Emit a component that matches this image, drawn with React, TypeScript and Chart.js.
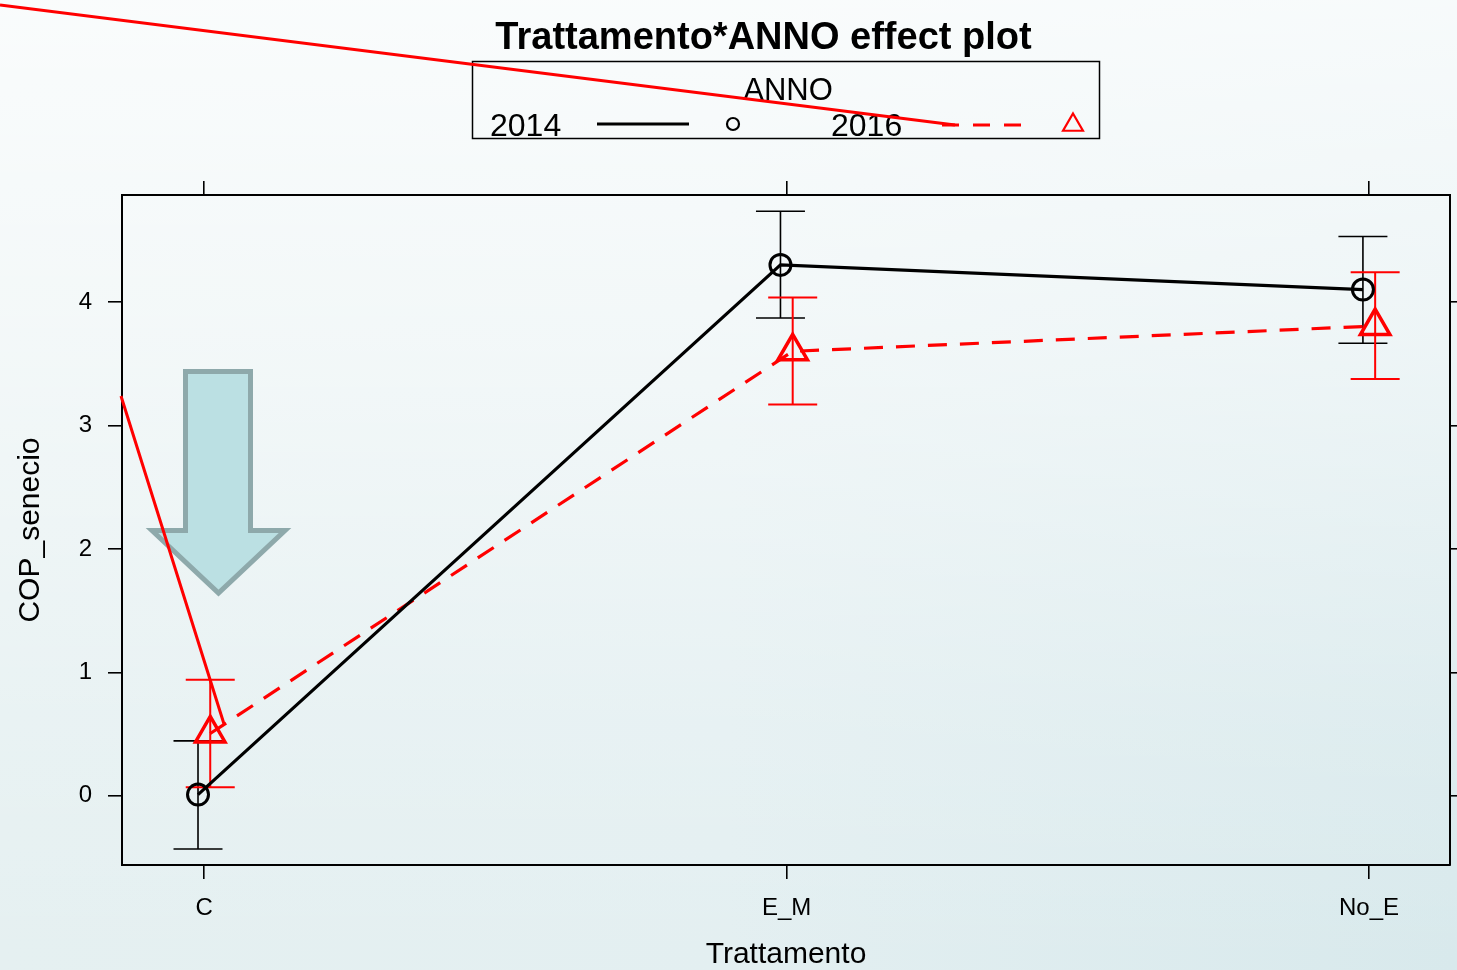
import { useEffect, useRef } from "react";
import { Chart, registerables } from "chart.js";

Chart.register(...registerables);

// Effect estimates with 95% confidence limits, per treatment and year
const categories = ["C", "E_M", "No_E"];
const years = ["2014", "2016"];
const fit2014 = [0.01, 4.3, 4.1];
const lower2014 = [-0.43, 3.87, 3.665];
const upper2014 = [0.445, 4.735, 4.53];
const fit2016 = [0.505, 3.6, 3.805];
const lower2016 = [0.07, 3.17, 3.375];
const upper2016 = [0.94, 4.035, 4.24];
const yTickValues = [0, 1, 2, 3, 4];

const FONT = "'Liberation Sans', Arial, Helvetica, sans-serif";
const W = 1457;
const H = 970;

// dodge of the two year groups around each category position
const DODGE = 0.0105;

const yMin = -0.56;
const yMax = 4.866;
const xMin = -0.141;
const xMax = 2.139;

const backgroundPlugin = {
  id: "slideBackground",
  beforeDraw(chart: any) {
    const { ctx } = chart;
    ctx.save();
    const g1 = ctx.createLinearGradient(0, 0, W, 0);
    g1.addColorStop(0, "#e5f0f1");
    g1.addColorStop(0.5, "#e3eff1");
    g1.addColorStop(1, "#d8e9ec");
    ctx.fillStyle = g1;
    ctx.fillRect(0, 0, W, H);
    const g2 = ctx.createLinearGradient(0, 0, 0, H);
    g2.addColorStop(0, "rgba(255,255,255,0.8)");
    g2.addColorStop(0.35, "rgba(255,255,255,0.55)");
    g2.addColorStop(0.75, "rgba(255,255,255,0.15)");
    g2.addColorStop(1, "rgba(255,255,255,0)");
    ctx.fillStyle = g2;
    ctx.fillRect(0, 0, W, H);
    ctx.restore();
  },
};

const errorBarPlugin = {
  id: "errorBars",
  beforeDatasetsDraw(chart: any) {
    const { ctx } = chart;
    const yScale = chart.scales.y;
    chart.data.datasets.forEach((ds: any, di: number) => {
      const meta = chart.getDatasetMeta(di);
      ctx.save();
      ctx.strokeStyle = ds.borderColor;
      ctx.lineWidth = ds.errorWidth;
      ctx.setLineDash([]);
      meta.data.forEach((pt: any, i: number) => {
        const x = pt.x;
        const yl = yScale.getPixelForValue(ds.lower[i]);
        const yu = yScale.getPixelForValue(ds.upper[i]);
        const cap = 24.5;
        ctx.beginPath();
        ctx.moveTo(x, yl);
        ctx.lineTo(x, yu);
        ctx.moveTo(x - cap, yl);
        ctx.lineTo(x + cap, yl);
        ctx.moveTo(x - cap, yu);
        ctx.lineTo(x + cap, yu);
        ctx.stroke();
      });
      ctx.restore();
    });
  },
};

function drawTriangle(ctx: CanvasRenderingContext2D, x: number, y: number, r: number) {
  ctx.beginPath();
  for (let k = 0; k < 3; k++) {
    const a = (k * 2 * Math.PI) / 3;
    const px = x + Math.sin(a) * r;
    const py = y - Math.cos(a) * r;
    if (k === 0) ctx.moveTo(px, py);
    else ctx.lineTo(px, py);
  }
  ctx.closePath();
  ctx.stroke();
}

const overlayPlugin = {
  id: "titleKeyAndNotes",
  afterDraw(chart: any) {
    const { ctx } = chart;
    const [d14, d16] = chart.data.datasets;
    ctx.save();

    // title
    ctx.fillStyle = "#000";
    ctx.font = `bold 38px ${FONT}`;
    ctx.textAlign = "center";
    ctx.textBaseline = "middle";
    ctx.fillText("Trattamento*ANNO effect plot", 763.5, 39);

    // key box
    ctx.strokeStyle = "#000";
    ctx.lineWidth = 1.5;
    ctx.strokeRect(472.5, 61.5, 627, 77);
    ctx.font = `31px ${FONT}`;
    ctx.fillText("ANNO", 788, 91);
    ctx.textAlign = "left";
    ctx.font = `32px ${FONT}`;
    ctx.fillText(d14.label, 490, 127);
    ctx.fillText(d16.label, 831, 127);

    ctx.strokeStyle = d14.borderColor;
    ctx.lineWidth = 3;
    ctx.beginPath();
    ctx.moveTo(597, 124);
    ctx.lineTo(689, 124);
    ctx.stroke();
    ctx.lineWidth = 2.2;
    ctx.beginPath();
    ctx.arc(733, 124, 6, 0, Math.PI * 2);
    ctx.stroke();

    ctx.strokeStyle = d16.borderColor;
    ctx.lineWidth = 3;
    ctx.setLineDash([17, 14]);
    ctx.beginPath();
    ctx.moveTo(942, 125);
    ctx.lineTo(1021, 125);
    ctx.stroke();
    ctx.setLineDash([]);
    ctx.lineWidth = 2.2;
    drawTriangle(ctx, 1073, 125, 11.5);

    // pointer arrow towards the control group
    ctx.beginPath();
    ctx.moveTo(185.5, 371.5);
    ctx.lineTo(250.5, 371.5);
    ctx.lineTo(250.5, 530.5);
    ctx.lineTo(285, 530.5);
    ctx.lineTo(218.5, 593);
    ctx.lineTo(152, 530.5);
    ctx.lineTo(185.5, 530.5);
    ctx.closePath();
    ctx.fillStyle = "#bbe0e3";
    ctx.fill();
    ctx.strokeStyle = "#8ea9ab";
    ctx.lineWidth = 5;
    ctx.lineJoin = "miter";
    ctx.stroke();

    // hand-drawn red marker lines
    ctx.strokeStyle = "#ff0000";
    ctx.lineWidth = 3;
    ctx.lineCap = "butt";
    ctx.beginPath();
    ctx.moveTo(0, 5);
    ctx.lineTo(955, 125);
    ctx.moveTo(121, 396);
    ctx.lineTo(224, 724);
    ctx.stroke();

    ctx.restore();
  },
};

const axisCommon = {
  grid: {
    drawOnChartArea: false,
    drawTicks: true,
    color: "#000",
    lineWidth: 1.6,
  },
  border: { display: true, color: "#000", width: 2 },
};

const noSidePadding = (s: any) => {
  s.paddingLeft = 0;
  s.paddingRight = 0;
};

export default function App() {
  const ref = useRef<HTMLCanvasElement | null>(null);

  useEffect(() => {
    document.body.style.margin = "0";
    const canvas = ref.current;
    if (!canvas) return;

    const catTicks = (s: any) => {
      s.ticks = categories.map((_, i) => ({ value: i }));
    };
    const valTicks = (s: any) => {
      s.ticks = yTickValues.map((v) => ({ value: v }));
    };

    const chart = new Chart(canvas, {
      type: "line",
      data: {
        datasets: [
          {
            label: years[0],
            data: categories.map((_, i) => ({ x: i - DODGE, y: fit2014[i] })),
            lower: lower2014,
            upper: upper2014,
            errorWidth: 1.6,
            borderColor: "#000000",
            borderWidth: 3.2,
            pointStyle: "circle",
            pointRadius: 10.5,
            pointBorderWidth: 3,
            pointBorderColor: "#000000",
            pointBackgroundColor: "rgba(0,0,0,0)",
            tension: 0,
            fill: false,
          } as any,
          {
            label: years[1],
            data: categories.map((_, i) => ({ x: i + DODGE, y: fit2016[i] })),
            lower: lower2016,
            upper: upper2016,
            errorWidth: 2,
            borderColor: "#ff0000",
            borderWidth: 3.2,
            borderDash: [19, 13],
            pointStyle: "triangle",
            pointRadius: 17,
            pointBorderWidth: 3.5,
            pointBorderColor: "#ff0000",
            pointBackgroundColor: "rgba(0,0,0,0)",
            tension: 0,
            fill: false,
          } as any,
        ],
      },
      options: {
        animation: false,
        responsive: false,
        devicePixelRatio: 1,
        layout: { padding: 0, autoPadding: false },
        plugins: {
          legend: { display: false },
          title: { display: false },
          tooltip: { enabled: false },
        },
        scales: {
          x: {
            type: "linear",
            position: "bottom",
            min: xMin,
            max: xMax,
            afterBuildTicks: catTicks,
            afterFit: (s: any) => {
              s.height = 105;
              noSidePadding(s);
            },
            ticks: {
              color: "#000",
              font: { family: FONT, size: 24 },
              padding: 15,
              maxRotation: 0,
              autoSkip: false,
              callback: (v: any) => categories[Number(v)] ?? "",
            },
            title: {
              display: true,
              text: "Trattamento",
              color: "#000",
              font: { family: FONT, size: 30, lineHeight: 1 },
              padding: { top: 0, bottom: 0 },
            },
            ...axisCommon,
            grid: { ...axisCommon.grid, tickLength: 14 },
          },
          x2: {
            type: "linear",
            position: "top",
            min: xMin,
            max: xMax,
            afterBuildTicks: catTicks,
            afterFit: (s: any) => {
              s.height = 195;
              noSidePadding(s);
            },
            ticks: { display: false },
            ...axisCommon,
            grid: { ...axisCommon.grid, tickLength: 14 },
          },
          y: {
            type: "linear",
            position: "left",
            min: yMin,
            max: yMax,
            afterBuildTicks: valTicks,
            afterFit: (s: any) => {
              s.width = 122;
            },
            ticks: {
              color: "#000",
              font: { family: FONT, size: 24 },
              padding: 16,
            },
            title: {
              display: true,
              text: "COP_senecio",
              color: "#000",
              font: { family: FONT, size: 30 },
              padding: { top: 13, bottom: 0 },
            },
            ...axisCommon,
            grid: { ...axisCommon.grid, tickLength: 14 },
          },
          y2: {
            type: "linear",
            position: "right",
            min: yMin,
            max: yMax,
            afterBuildTicks: valTicks,
            afterFit: (s: any) => {
              s.width = 7;
            },
            ticks: { display: false },
            ...axisCommon,
            grid: { ...axisCommon.grid, tickLength: 7 },
          },
        },
      } as any,
      plugins: [backgroundPlugin, errorBarPlugin, overlayPlugin],
    });

    return () => chart.destroy();
  }, []);

  return <canvas ref={ref} width={W} height={H} style={{ display: "block", width: W, height: H }} />;
}
